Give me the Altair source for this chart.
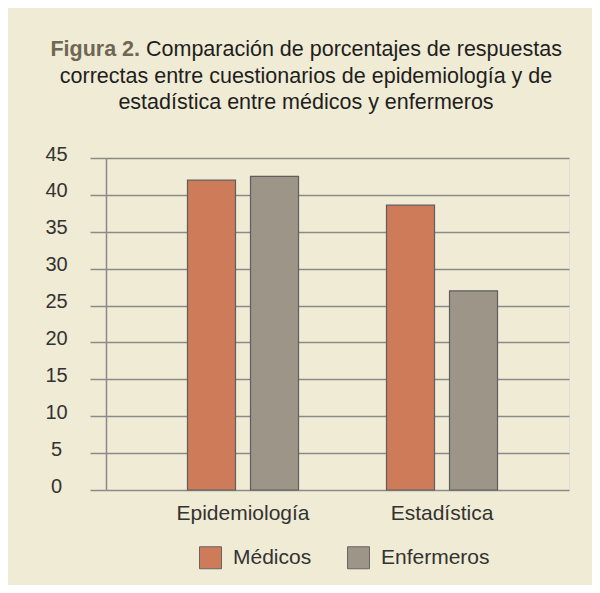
import altair as alt
import pandas as pd

# ---- data ----
categorias = ["Epidemiología", "Estadística"]
grupos = ["Médicos", "Enfermeros"]
medicos = [42.0, 38.6]
enfermeros = [42.5, 27.0]
y_ticks = [0, 5, 10, 15, 20, 25, 30, 35, 40, 45]
colores = ["#CD7B59", "#9D9587"]

titulo_etiqueta = ["Figura 2."]
titulo_linea1 = ["Comparación de porcentajes de respuestas"]
titulo_linea2 = ["correctas entre cuestionarios de epidemiología y de"]
titulo_linea3 = ["estadística entre médicos y enfermeros"]

rows = []
for i, c in enumerate(categorias):
    rows.append({"cat": c, "grupo": grupos[0], "valor": medicos[i]})
    rows.append({"cat": c, "grupo": grupos[1], "valor": enfermeros[i]})
df = pd.DataFrame(rows)

FONT = "Liberation Sans"
W, H = 463, 332
GRID = "#8a8a8a"
TXT = "#333333"

bars = alt.Chart(df).mark_bar(stroke="#5e5e5e", strokeWidth=1.2).encode(
    x=alt.X(
        "cat:N", sort=categorias, title=None,
        scale=alt.Scale(paddingInner=0, paddingOuter=0.1633, align=0.577),
        axis=alt.Axis(domain=False, ticks=False, tickSize=0, labelAngle=0,
                      labelFontSize=21, labelPadding=12, labelColor=TXT,
                      labelFont=FONT, grid=False),
    ),
    xOffset=alt.XOffset("grupo:N", sort=grupos,
                        scale=alt.Scale(paddingInner=0.238, paddingOuter=0.698)),
    y=alt.Y(
        "valor:Q", title=None,
        scale=alt.Scale(domain=[0, 45], nice=False, zero=True),
        axis=alt.Axis(values=y_ticks, tickSize=16, tickColor=GRID, tickWidth=1.5,
                      domain=True, domainColor=GRID, domainWidth=1.5,
                      grid=True, gridColor=GRID, gridWidth=1.5,
                      labelAlign="center", labelBaseline="middle", labelPadding=34,
                      labelOffset=-4, labelFontSize=20, labelColor=TXT,
                      labelFont=FONT, labelOverlap=False),
    ),
    color=alt.Color(
        "grupo:N", sort=grupos,
        scale=alt.Scale(domain=grupos, range=colores),
        legend=alt.Legend(orient="none", legendX=93, legendY=388,
                          direction="horizontal", title=None,
                          symbolType="square", symbolSize=484,
                          symbolStrokeColor="#666666", symbolStrokeWidth=1,
                          labelFontSize=21, labelColor=TXT, labelFont=FONT,
                          labelOffset=11, columnPadding=33, padding=0),
    ),
)

def texto(lista, x, y, align, color, weight="normal"):
    return alt.Chart(pd.DataFrame({"t": lista})).mark_text(
        font=FONT, fontSize=21.5, align=align, baseline="alphabetic",
        color=color, fontWeight=weight,
    ).encode(text="t:N", x=alt.value(x), y=alt.value(y))

t0 = texto(titulo_etiqueta, 34, -102, "right", "#6e6755", "bold")
t1 = texto(titulo_linea1, 40, -102, "left", "#1e1e1e")
t2 = texto(titulo_linea2, 200, -75, "center", "#1e1e1e")
t3 = texto(titulo_linea3, 200, -49, "center", "#1e1e1e")

chart = alt.layer(bars, t0, t1, t2, t3).properties(
    width=W, height=H, background="#F0EBD4",
    autosize=alt.AutoSizeParams(type="none"),
    padding={"left": 98, "top": 150, "right": 23, "bottom": 95},
).configure_view(stroke=None).configure(font=FONT)

chart.save("out.html", embed_options={"renderer": "svg", "actions": False})
